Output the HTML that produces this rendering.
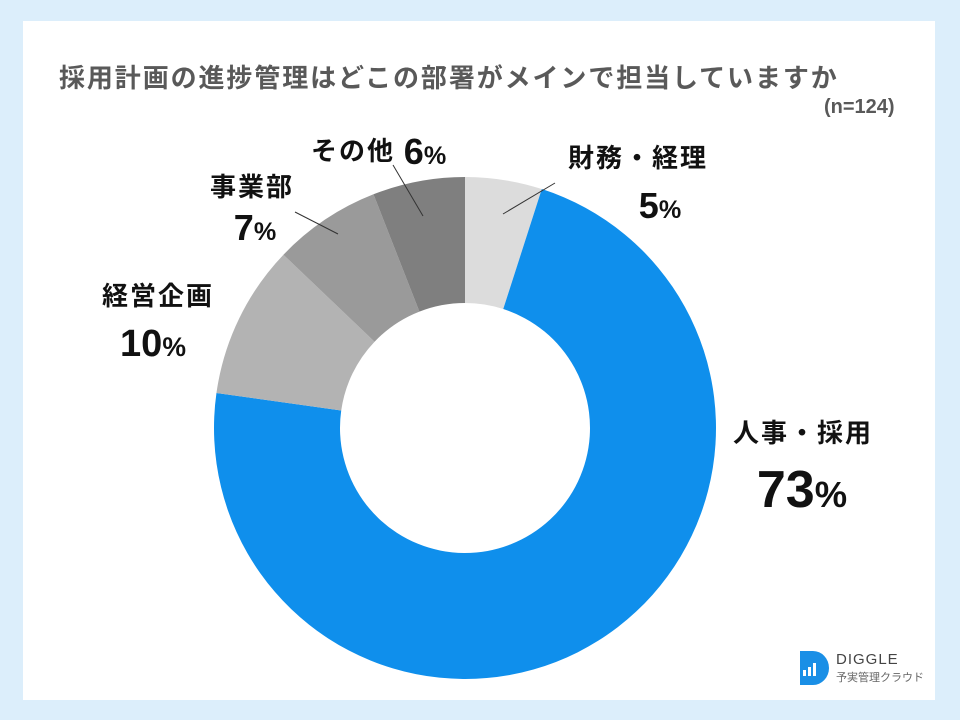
<!DOCTYPE html>
<html><head><meta charset="utf-8"><style>
body{margin:0;width:960px;height:720px;background:#dceefb;position:relative;overflow:hidden;font-family:"Liberation Sans","Noto Sans CJK JP",sans-serif}
#card{position:absolute;left:23px;top:21px;width:912px;height:679px;background:#fff}
.t{position:absolute;white-space:nowrap}
</style></head><body>
<div id="card"></div>
<div class="t" style="left:59px;top:58px;font-size:26px;font-weight:bold;color:#595959;letter-spacing:1.9px">採用計画の進捗管理はどこの部署がメインで担当していますか</div>
<div class="t" style="left:824px;top:96px;font-size:20px;font-weight:bold;color:#595959">(n=124)</div>
<svg id="chart" width="960" height="720" style="position:absolute;left:0;top:0"></svg>
<div style="position:absolute;left:800px;top:651px">
<svg width="30" height="34"><path d="M0 0H13A16 17 0 0 1 13 34H0Z" fill="#1a8fe6"/><rect x="3" y="19" width="3" height="6" fill="#fff"/><rect x="8" y="16" width="3" height="9" fill="#fff"/><rect x="13" y="12" width="3" height="13" fill="#fff"/></svg>
<div class="t" style="left:36px;top:0px;font-size:15px;color:#444;letter-spacing:1px">DIGGLE</div>
<div class="t" style="left:36px;top:18px;font-size:11px;color:#666">予実管理クラウド</div>
</div>
<script>
const categories=["財務・経理","人事・採用","経営企画","事業部","その他"];
const values=[5,73,10,7,6];
const colors=["#dcdcdc","#0f8fec","#b3b3b3","#9a9a9a","#7f7f7f"];
const cx=465,cy=428,R=251,r=125;
const svg=document.getElementById('chart');
const NS='http://www.w3.org/2000/svg';
const total=values.reduce((a,b)=>a+b,0);
function pt(a,rad){return [cx+rad*Math.sin(a),cy-rad*Math.cos(a)];}
let a0=0;
values.forEach((v,i)=>{
  const a1=a0+v/total*2*Math.PI;
  const [x0,y0]=pt(a0,R),[x1,y1]=pt(a1,R),[x2,y2]=pt(a1,r),[x3,y3]=pt(a0,r);
  const lg=(a1-a0)>Math.PI?1:0;
  const p=document.createElementNS(NS,'path');
  p.setAttribute('d',`M${x0} ${y0}A${R} ${R} 0 ${lg} 1 ${x1} ${y1}L${x2} ${y2}A${r} ${r} 0 ${lg} 0 ${x3} ${y3}Z`);
  p.setAttribute('fill',colors[i]);
  
  
  svg.appendChild(p);
  a0=a1;
});
function txt(x,y,s,size,anchor,name,ls){
  const t=document.createElementNS(NS,'text');
  t.setAttribute('x',x);t.setAttribute('y',y);t.setAttribute('font-size',size);
  t.setAttribute('font-weight','bold');t.setAttribute('fill','#111');t.setAttribute('text-anchor',anchor);
  if(ls)t.setAttribute('letter-spacing',ls);
  t.setAttribute('font-family','"Liberation Sans","Noto Sans CJK JP",sans-serif');
  t.textContent=s;
  
  
  svg.appendChild(t);return t;
}
function pct(x,y,v,size,name){
  const t=txt(x,y,'',size,'middle',name);
  const a=document.createElementNS(NS,'tspan');a.textContent=v;t.appendChild(a);
  const b=document.createElementNS(NS,'tspan');b.textContent='%';b.setAttribute('font-size',size*0.7);t.appendChild(b);
}
txt(638,167,categories[0],26,'middle','label-finance','2');pct(660,218,values[0],36,'value-finance');
txt(803,442,categories[1],26,'middle','label-hr','2');pct(802,507,values[1],52,'value-hr');
txt(158,305,categories[2],26,'middle','label-planning','2');pct(153,356,values[2],38,'value-planning');
txt(252,196,categories[3],26,'middle','label-business','2');pct(255,240,values[3],36,'value-business');
txt(353,160,categories[4],26,'middle','label-other','2');pct(425,164,values[4],36,'value-other');
function line(x1,y1,x2,y2,n){const l=document.createElementNS(NS,'line');l.setAttribute('x1',x1);l.setAttribute('y1',y1);l.setAttribute('x2',x2);l.setAttribute('y2',y2);l.setAttribute('stroke','#333');l.setAttribute('stroke-width','1');svg.appendChild(l);}
line(555,183,503,214,'leader-finance');
line(295,212,338,234,'leader-business');
line(393,165,423,216,'leader-other');
</script>
</body></html>
